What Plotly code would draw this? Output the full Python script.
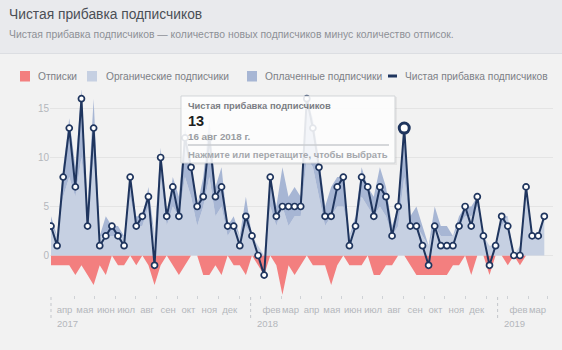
import pandas as pd
import plotly.graph_objects as go

# ---- data ---------------------------------------------------------------
# one sample every 9 days, 12 Mar 2017 .. 11 Mar 2019
DATES = pd.date_range("2017-03-12", periods=82, freq="9D")

NET = [3, 1, 8, 13, 7, 16, 3, 13, 1, 2,
       3, 2, 1, 8, 3, 4, 6, -1, 10, 4,
       7, 4, 12, 9, 5, 6, 12, 6, 7, 3,
       3, 1, 4, 2, 0, -2, 8, 4, 5, 5,
       5, 5, 16, 13, 9, 4, 4, 7, 8, 1,
       3, 8, 7, 4, 7, 6, 2, 5, 13, 3,
       3, 1, -1, 3, 1, 1, 1, 3, 5, 3,
       6, 2, -1, 1, 4, 3, 0, 0, 7, 2,
       2, 4]

UNSUBSCRIBES = [1, 1, 1, 1, 2, 1, 2, 3, 1, 2,
                0, 1, 1, 0, 1, 0, 1, 3, 1, 0,
                1, 2, 1, 0, 0, 2, 2, 1, 2, 0,
                1, 1, 2, 0, 1, 2, 0, 1, 4, 1,
                2, 1, 0, 1, 1, 1, 3, 1, 0, 1,
                1, 1, 0, 2, 2, 1, 1, 0, 0, 1,
                2, 2, 2, 2, 2, 2, 1, 1, 0, 2,
                0, 0, 2, 0, 0, 1, 0, 1, 0, 0,
                0, 0]

ORGANIC = [3, 2, 6, 8, 6, 10, 4, 10, 2, 2,
           2, 2, 2, 6, 3, 3, 5, 2, 8, 3,
           5, 4, 8, 6, 3, 5, 8, 4, 5, 2,
           3, 2, 3, 2, 1, 0, 5, 3, 5, 3,
           4, 4, 10, 9, 6, 3, 4, 5, 5, 2,
           3, 6, 5, 4, 5, 4, 2, 3, 8, 3,
           3, 2, 1, 3, 2, 2, 2, 3, 4, 4,
           5, 2, 1, 1, 3, 4, 0, 1, 6, 2,
           2, 4]

PAID = [1, 0, 3, 6, 3, 7, 1, 6, 0, 2,
        1, 1, 0, 2, 1, 1, 2, 0, 3, 1,
        3, 2, 5, 3, 2, 3, 6, 3, 4, 1,
        1, 0, 3, 0, 0, 0, 3, 2, 4, 3,
        3, 2, 6, 5, 4, 2, 3, 3, 3, 0,
        1, 3, 2, 2, 4, 3, 1, 2, 5, 1,
        2, 1, 0, 2, 1, 1, 0, 1, 1, 1,
        1, 0, 0, 0, 1, 0, 0, 0, 1, 0,
        0, 0]

HIGHLIGHT = pd.Timestamp("2018-08-16")

MONTH_TICKS = ["2017-04-01", "2017-05-01", "2017-06-01", "2017-07-01",
               "2017-08-01", "2017-09-01", "2017-10-01", "2017-11-01",
               "2017-12-01", "2018-02-01", "2018-03-01", "2018-04-01",
               "2018-05-01", "2018-06-01", "2018-07-01", "2018-08-01",
               "2018-09-01", "2018-10-01", "2018-11-01", "2018-12-01",
               "2019-02-01", "2019-03-01"]
MONTH_LABELS = ["апр", "мая", "июн", "июл", "авг", "сен", "окт", "ноя", "дек",
                "фев", "мар", "апр", "мая", "июн", "июл", "авг", "сен", "окт",
                "ноя", "дек", "фев", "мар"]
YEAR_LABELS = ["2017", "2018", "2019"]
YEAR_STARTS = ["2017-03-12", "2018-01-01", "2019-01-01"]
MONTHS_SHORT = ["янв", "фев", "мар", "апр", "мая", "июн",
                "июл", "авг", "сен", "окт", "ноя", "дек"]

Y_TICKS = [0, 5, 10, 15]

TITLE = "Чистая прибавка подписчиков"
SUBTITLE = ("Чистая прибавка подписчиков — количество новых подписчиков "
            "минус количество отписок.")
LEGEND_NAMES = ["Отписки", "Органические подписчики",
                "Оплаченные подписчики", "Чистая прибавка подписчиков"]

# ---- styling ------------------------------------------------------------
W, H = 562, 350
RED = "#f37f7f"
ORGANIC_C = "#c6d0e2"
PAID_C = "#a7b6d4"
NAVY = "#1f355e"
BG = "#f2f2f2"
HEADER_BG = "#e9eaed"
FONT = "Liberation Sans"


def px(x):
    return x / W


def py(y):
    return 1 - y / H


# plot box in pixels
PL, PR, PT, PB = 50, 553, 90, 295
Y0_PIX, PIX_PER_UNIT = 255.5, 9.8
PIX_PER_DAY = 0.6767
FIRST_PIX = 51

x_left = DATES[0] - pd.Timedelta(days=(FIRST_PIX - PL) / PIX_PER_DAY)
x_right = DATES[0] + pd.Timedelta(days=(PR - FIRST_PIX) / PIX_PER_DAY)
y_top = (Y0_PIX - PT) / PIX_PER_UNIT
y_bot = -(PB - Y0_PIX) / PIX_PER_UNIT

fig = go.Figure()

# unsubscribes drawn below zero
fig.add_trace(go.Scatter(
    x=DATES, y=[-u for u in UNSUBSCRIBES], mode="lines",
    line=dict(width=0, color=RED), fill="tozeroy", fillcolor=RED,
    hoverinfo="skip", showlegend=False))

# organic + paid stacked above zero
fig.add_trace(go.Scatter(
    x=DATES, y=ORGANIC, mode="lines", stackgroup="subs",
    line=dict(width=0, color=ORGANIC_C), fillcolor=ORGANIC_C,
    hoverinfo="skip", showlegend=False))
fig.add_trace(go.Scatter(
    x=DATES, y=PAID, mode="lines", stackgroup="subs",
    line=dict(width=0, color=PAID_C), fillcolor=PAID_C,
    hoverinfo="skip", showlegend=False))

# net line with markers
fig.add_trace(go.Scatter(
    x=DATES, y=NET, mode="lines+markers",
    line=dict(color=NAVY, width=2),
    marker=dict(size=6, color="white", line=dict(color=NAVY, width=1.7)),
    hoverinfo="skip", showlegend=False))

hi = list(DATES).index(HIGHLIGHT)
fig.add_trace(go.Scatter(
    x=[DATES[hi]], y=[NET[hi]], mode="markers",
    marker=dict(size=10, color="white", line=dict(color=NAVY, width=3)),
    hoverinfo="skip", showlegend=False))

shapes = []
annotations = []

# header band
shapes.append(dict(type="rect", xref="paper", yref="paper",
                   x0=0, x1=1, y0=py(53), y1=1,
                   fillcolor=HEADER_BG, line=dict(width=0), layer="below"))
shapes.append(dict(type="line", xref="paper", yref="paper",
                   x0=0, x1=1, y0=py(53.5), y1=py(53.5),
                   line=dict(color="#dcdee2", width=1), layer="below"))

annotations.append(dict(text=TITLE, xref="paper", yref="paper",
                        x=px(7), y=py(15), xanchor="left", yanchor="middle",
                        showarrow=False,
                        font=dict(family=FONT, size=13.8, color="#4b4f56")))
annotations.append(dict(text=SUBTITLE, xref="paper", yref="paper",
                        x=px(7), y=py(35), xanchor="left", yanchor="middle",
                        showarrow=False,
                        font=dict(family=FONT, size=10.4, color="#8d9096")))

# legend row
legend_items = [(20, 36, RED, "box"), (87, 104, ORGANIC_C, "box"),
                (247, 263, PAID_C, "box"), (388, 403, NAVY, "dash")]
for (lx, tx, col, kind), name in zip(legend_items, LEGEND_NAMES):
    if kind == "box":
        shapes.append(dict(type="rect", xref="paper", yref="paper",
                           x0=px(lx), x1=px(lx + 10), y0=py(81.5), y1=py(71),
                           fillcolor=col, line=dict(width=0)))
    else:
        shapes.append(dict(type="line", xref="paper", yref="paper",
                           x0=px(lx), x1=px(lx + 9), y0=py(76), y1=py(76),
                           line=dict(color=col, width=3)))
    annotations.append(dict(text=name, xref="paper", yref="paper",
                            x=px(tx), y=py(76.5), xanchor="left",
                            yanchor="middle", showarrow=False,
                            font=dict(family=FONT, size=10.2,
                                      color="#7d8086")))

# year separators and labels
for lab, d in zip(YEAR_LABELS, YEAR_STARTS):
    shapes.append(dict(type="line", xref="x", yref="paper",
                       x0=d, x1=d, y0=py(297), y1=py(319),
                       line=dict(color="#c3c6cb", width=1, dash="dot")))
    annotations.append(dict(text=lab, xref="x", yref="paper", x=d,
                            y=py(323), xanchor="left", yanchor="middle",
                            xshift=4, showarrow=False,
                            font=dict(family=FONT, size=9.5,
                                      color="#b4b7bc")))

# tooltip card
shapes.append(dict(type="rect", xref="paper", yref="paper",
                   x0=px(182), x1=px(397), y0=py(165), y1=py(97),
                   fillcolor="rgba(0,0,0,0.05)", line=dict(width=0)))
shapes.append(dict(type="rect", xref="paper", yref="paper",
                   x0=px(181), x1=px(395), y0=py(163), y1=py(96),
                   fillcolor="rgba(255,255,255,0.88)",
                   line=dict(color="rgba(205,208,212,0.9)", width=1)))
shapes.append(dict(type="line", xref="paper", yref="paper",
                   x0=px(188), x1=px(389), y0=py(145), y1=py(145),
                   line=dict(color="#c9cbcf", width=1.5)))

d = DATES[hi]
date_text = f"{d.day} {MONTHS_SHORT[d.month - 1]} {d.year} г."
tip_lines = [
    (LEGEND_NAMES[3], 105.5, 9.4, "#7b7e84"),
    (str(NET[hi]), 121, 14.5, "#1c1e21"),
    (date_text, 136.5, 9.8, "#9a9da2"),
    ("Нажмите или перетащите, чтобы выбрать", 154.5, 9.5, "#a5a8ad"),
]
for txt, ty, fs, col in tip_lines:
    annotations.append(dict(text=f"<b>{txt}</b>",
                            xref="paper", yref="paper", x=px(186),
                            y=py(ty), xanchor="left", yanchor="middle",
                            showarrow=False,
                            font=dict(family=FONT, size=fs, color=col)))

mid_month_ticks = pd.date_range("2017-04-01", "2019-03-01", freq="MS") + \
    pd.Timedelta(days=14)

fig.update_layout(
    width=W, height=H,
    margin=dict(l=0, r=0, t=0, b=0),
    paper_bgcolor=BG, plot_bgcolor=BG,
    shapes=shapes, annotations=annotations,
    showlegend=False,
    xaxis=dict(
        domain=[px(PL), px(PR)], range=[x_left, x_right],
        tickmode="array", tickvals=MONTH_TICKS, ticktext=MONTH_LABELS,
        tickangle=0,
        ticks="", showgrid=False, zeroline=False, showline=False,
        ticklabelstandoff=7,
        tickfont=dict(family=FONT, size=9.5, color="#b4b7bc"),
        minor=dict(tickmode="array", tickvals=list(mid_month_ticks),
                   ticks="outside", ticklen=3, tickcolor="#cfd2d6",
                   tickwidth=1, showgrid=False),
    ),
    yaxis=dict(
        domain=[py(PB), py(PT)], range=[y_bot, y_top],
        tickmode="array", tickvals=Y_TICKS,
        showgrid=True, gridcolor="#e4e4e4", gridwidth=1,
        zeroline=False, showline=False, ticks="",
        tickfont=dict(family=FONT, size=10, color="#b4b7bc"),
    ),
)

fig.write_html("out.html", config={"displayModeBar": False})
